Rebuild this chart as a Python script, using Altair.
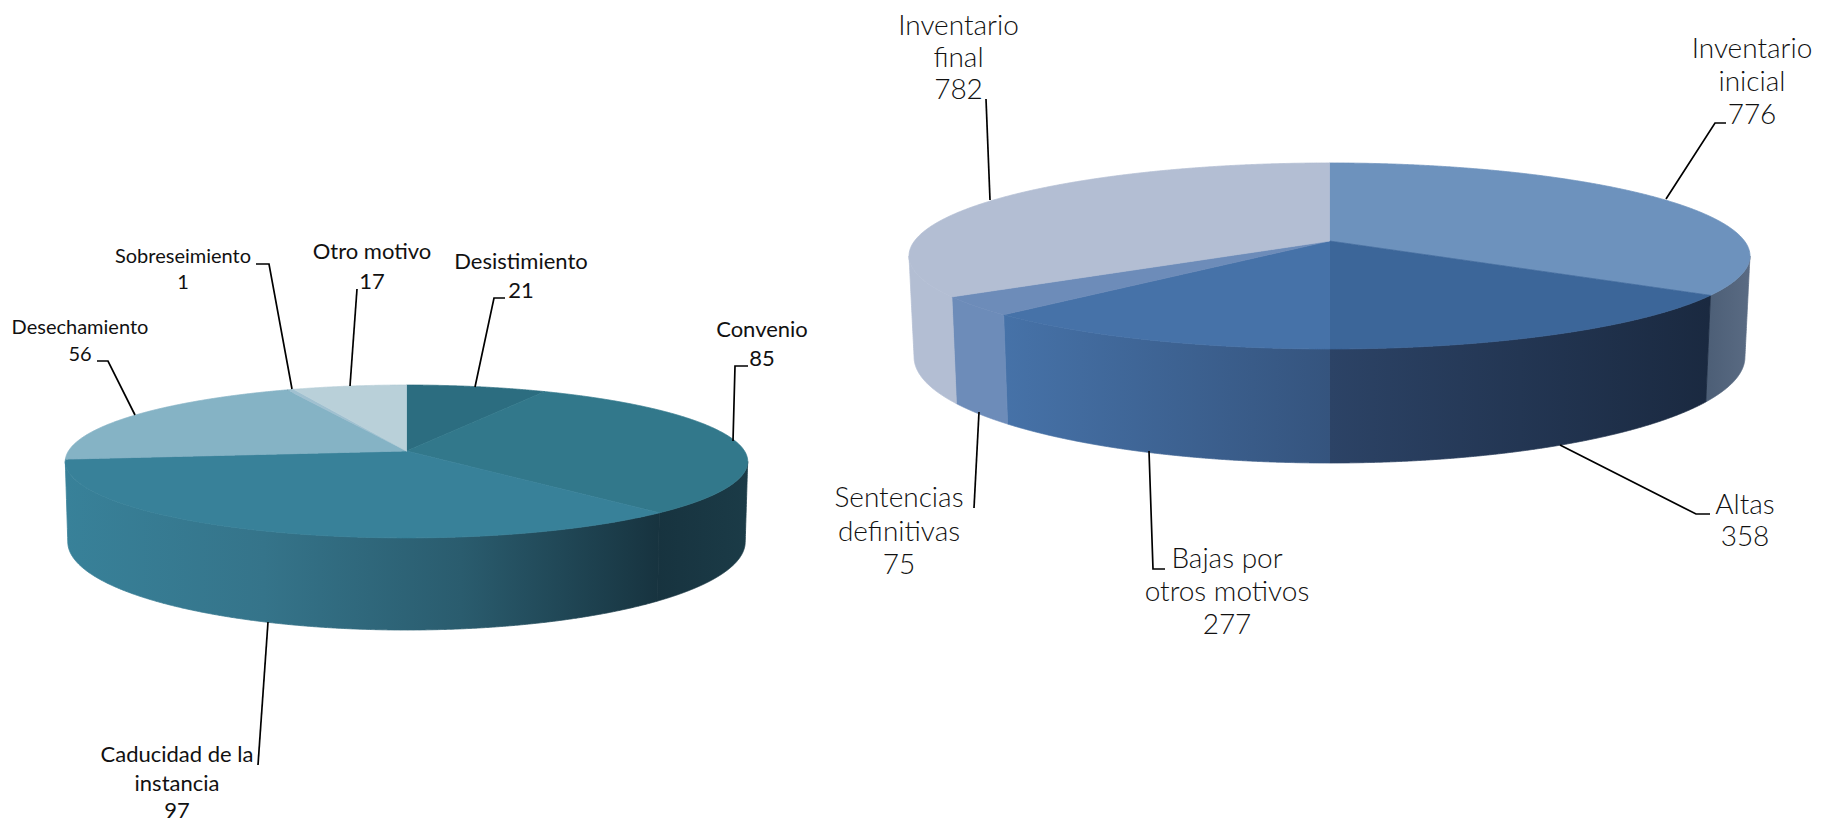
import math
import numpy as np
import pandas as pd
import altair as alt

# ---- values
left_names = ["Desistimiento", "Convenio", "Caducidad de la instancia", "Desechamiento", "Sobreseimiento", "Otro motivo"]
left_values = [21, 85, 97, 56, 1, 17]
right_names = ["Inventario inicial", "Altas", "Bajas por otros motivos", "Sentencias definitivas", "Inventario final"]
right_values = [776, 358, 277, 75, 782]

# ---- styles
left_top = ["#2c6d80", "#32788b", "#388199", "#85b3c5", "#a0c0d0", "#b9d0d9"]
right_top = ["#6d92bd", "#3c6699", "#4672a8", "#6d8cb9", "#b3bed3"]
left_wall = {1: ["#17333f", "#1b3b47"], 2: ["#388199", "#35748a", "#2a5c6e", "#17333f"]}
right_wall = {0: ["#4c5e76", "#5a6b83"], 1: ["#2c4366", "#1a2940"], 2: ["#4672a8", "#35547e"],
              3: ["#6d8cb9", "#6d8cb9"], 4: ["#b3bed3", "#b3bed3"]}

# ---- pie geometry (screen units)
left_geo = dict(cx=406.5, cy=451, A=338.0, B=75.0, p=0.137, A2=335.5, B2=86.4, d=78.9)
right_geo = dict(cx=1329.5, cy=241, A=415.0, B=90.6, p=0.161, A2=410.0, B2=103.2, d=99.0)

XS = alt.Scale(domain=[8, 1815], nice=False, zero=False)
YS = alt.Scale(domain=[826, 8], nice=False, zero=False)


def rim(g, th, lower=False):
    X, Y = np.sin(th), np.cos(th)
    w = 1 + g["p"] * Y
    if lower:
        return g["cx"] + g["A2"] * X / w, g["cy"] + g["d"] - g["B2"] * Y / w
    return g["cx"] + g["A"] * X / w, g["cy"] - g["B"] * Y / w


def scan(px, py):
    px, py = np.round(px, 3), np.round(py, 3)
    xs = np.unique(np.round(np.concatenate([px, np.linspace(px.min(), px.max(), 500)]), 3))
    rows = []
    n = len(px)
    for x in xs:
        ys = []
        for i in range(n):
            ax, ay, bx, by = px[i], py[i], px[(i + 1) % n], py[(i + 1) % n]
            if min(ax, bx) <= x <= max(ax, bx):
                if ax == bx:
                    ys += [ay, by]
                else:
                    ys.append(ay + (x - ax) / (bx - ax) * (by - ay))
        rows.append({"x": x, "y": min(ys), "y2": max(ys)})
    return pd.DataFrame(rows)


def area(df, fill):
    return alt.Chart(df).mark_area(orient="vertical", color=fill, stroke=fill, strokeWidth=0.8,
                                   interpolate="linear").encode(
        x=alt.X("x:Q", scale=XS, axis=None),
        y=alt.Y("y:Q", scale=YS, axis=None, stack=False),
        y2="y2:Q",
    )


def grad(cols):
    stops = [alt.GradientStop(offset=i / (len(cols) - 1), color=c) for i, c in enumerate(cols)]
    return alt.LinearGradient(gradient="linear", stops=stops, x1=0, x2=1, y1=0, y2=0)


def pie(values, g, tops, walls):
    total = sum(values)
    edges = np.cumsum([0] + values) / total * 2 * math.pi
    ext = math.asin(g["p"])
    lo, hi = math.pi / 2 + ext, 3 * math.pi / 2 - ext
    layers = []
    for i in range(len(values)):
        a, b = max(edges[i], lo), min(edges[i + 1], hi)
        if i in walls and a < b:
            t = np.linspace(a, b, 160)
            x1, y1 = rim(g, t)
            x2, y2 = rim(g, t[::-1], lower=True)
            layers.append(area(scan(np.concatenate([x1, x2]), np.concatenate([y1, y2])), grad(walls[i])))
    for i in range(len(values)):
        t = np.linspace(edges[i], edges[i + 1], 160)
        x1, y1 = rim(g, t)
        px = np.concatenate([[g["cx"]], x1])
        py = np.concatenate([[g["cy"]], y1])
        layers.append(area(scan(px, py), tops[i]))
    return layers


# ---- text
left_text = ["Desechamiento", "56", "Sobreseimiento", "1", "Otro motivo", "17", "Desistimiento", "21",
             "Convenio", "85", "Caducidad de la", "instancia", "97"]
left_tx = [80, 80, 183, 183, 372, 372, 521, 521, 762, 762, 177, 177, 177]
left_ty = [328, 355, 257, 283, 252, 282, 262, 291, 330, 359, 755, 784, 811]
left_fs = [20, 20, 20, 20, 22, 22, 22, 22, 22, 22, 22, 22, 22]
right_text = ["Inventario", "final", "782", "Inventario", "inicial", "776", "Sentencias", "definitivas", "75",
              "Bajas por", "otros motivos", "277", "Altas", "358"]
right_tx = [958.5, 958.5, 958.5, 1752, 1752, 1752, 899, 899, 899, 1227, 1227, 1227, 1745, 1745]
right_ty = [27, 59, 91, 50, 83, 116, 499, 533, 566, 560, 593, 626, 506, 538]

# ---- leader lines
leaders = [
    [(97, 361), (108, 361), (135, 415)],
    [(256, 264), (269, 264), (292, 389)],
    [(357, 289), (350, 386)],
    [(505, 298), (494, 298), (475, 387)],
    [(748, 366), (735, 366), (733, 441)],
    [(268, 622), (258, 765)],
    [(986, 99), (990, 200)],
    [(1726, 123), (1715, 123), (1666, 199)],
    [(979, 412), (974, 508)],
    [(1149, 451), (1153, 569), (1165, 569)],
    [(1560, 445), (1696, 514), (1710, 514)],
]
lead_df = pd.DataFrame([{"id": k, "i": i, "x": p[0], "y": p[1]} for k, l in enumerate(leaders) for i, p in enumerate(l)])
lead = alt.Chart(lead_df).mark_line(color="black", strokeWidth=1.7).encode(
    x=alt.X("x:Q", scale=XS, axis=None), y=alt.Y("y:Q", scale=YS, axis=None),
    detail="id:N", order="i:Q")

lt = pd.DataFrame({"t": left_text, "x": left_tx, "y": left_ty, "s": left_fs})
rt = pd.DataFrame({"t": right_text, "x": right_tx, "y": right_ty})
ltext = alt.Chart(lt).mark_text(font="Lato", align="center", baseline="middle", color="#111111").encode(
    x=alt.X("x:Q", scale=XS, axis=None), y=alt.Y("y:Q", scale=YS, axis=None), text="t:N",
    size=alt.Size("s:Q", scale=None, legend=None))
rtext = alt.Chart(rt).mark_text(font="Lato", fontWeight=300, fontSize=28, align="center", baseline="middle", color="#111111").encode(
    x=alt.X("x:Q", scale=XS, axis=None), y=alt.Y("y:Q", scale=YS, axis=None), text="t:N")

layers = pie(left_values, left_geo, left_top, left_wall) + pie(right_values, right_geo, right_top, right_wall)
chart = alt.layer(*layers, lead, ltext, rtext).properties(
    width=1807, height=818, padding=0,
    autosize=alt.AutoSizeParams(type="none"), background="white").configure_view(stroke=None)

chart.save("out.html", embed_options={"renderer": "svg", "actions": False})
